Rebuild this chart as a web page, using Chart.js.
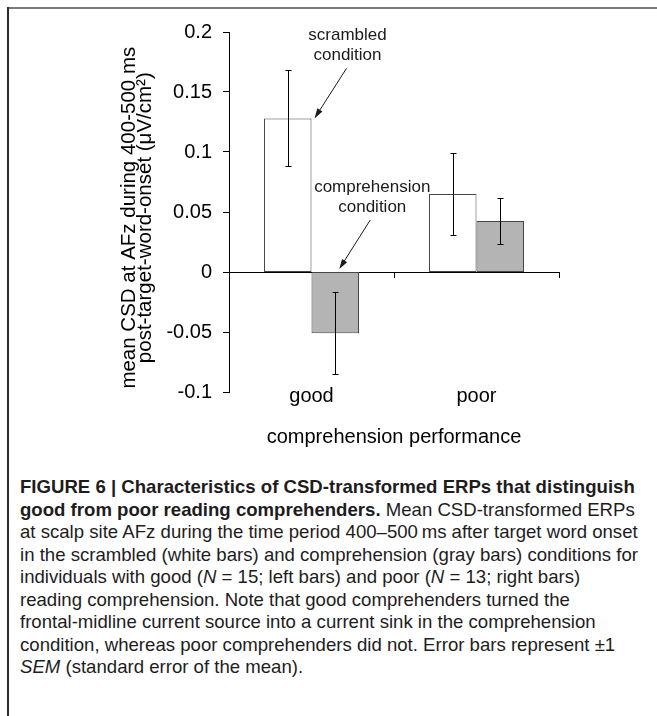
<!DOCTYPE html>
<html>
<head>
<meta charset="utf-8">
<script src="https://cdn.jsdelivr.net/npm/chart.js@4.4.1/dist/chart.umd.min.js"></script>
<style>
  html, body { margin: 0; padding: 0; background: #fff; }
  #page { position: relative; width: 657px; height: 716px; overflow: hidden; }
  #chartBox { position: absolute; left: 0; top: 0; width: 657px; height: 460px; }
  .frameTop { position: absolute; left: 8px; top: 7px; width: 649px; height: 2px; background: #7a7a7a; }
  .frameLeft { position: absolute; left: 7px; top: 7px; width: 2px; height: 709px; background: #2b2b2b; }
  #caption {
    position: absolute; left: 20px; top: 476px;
    font-family: 'Liberation Sans', Arial, sans-serif;
    font-size: 18.6px; line-height: 22.5px; color: #1e1c1d; white-space: nowrap;
  }
</style>
</head>
<body>
<div id="page">
  <div id="chartBox"><canvas id="csdChart"></canvas></div>
  <div class="frameTop"></div>
  <div class="frameLeft"></div>
  <div id="caption"><b>FIGURE 6 | Characteristics of CSD-transformed ERPs that distinguish<br>good from poor reading comprehenders.</b> Mean CSD-transformed ERPs<br>at scalp site AFz during the time period 400–500&thinsp;ms after target word onset<br>in the scrambled (white bars) and comprehension (gray bars) conditions for<br>individuals with good (<i>N</i> = 15; left bars) and poor (<i>N</i> = 13; right bars)<br>reading comprehension. Note that good comprehenders turned the<br>frontal-midline current source into a current sink in the comprehension<br>condition, whereas poor comprehenders did not. Error bars represent ±1<br><i>SEM</i> (standard error of the mean).</div>
</div>
<script>
// reading comprehension groups
const groups = ['good', 'poor'];

// mean CSD (µV/cm²) and SEM
const scrambled = [0.128, 0.065];
const scrambledSem = [0.040, 0.034];
const comprehension = [-0.051, 0.0425];
const comprehensionSem = [0.034, 0.0195];

const yTicks = ['-0.1', '-0.05', '0', '0.05', '0.1', '0.15', '0.2'];

Chart.defaults.font.family = "'Liberation Sans', Arial, sans-serif";
Chart.defaults.color = '#000';

// vertical error bars with small caps
const errorBars = {
  id: 'errorBars',
  afterDatasetsDraw(chart) {
    const ctx = chart.ctx;
    const y = chart.scales.y;
    ctx.save();
    ctx.strokeStyle = '#000';
    ctx.lineWidth = 1;
    chart.data.datasets.forEach((ds, i) => {
      chart.getDatasetMeta(i).data.forEach((bar, j) => {
        const v = ds.data[j], e = ds.sem[j];
        const x = Math.round(bar.x) + 0.5;
        const top = Math.round(y.getPixelForValue(v + e)) + 0.5;
        const bot = Math.round(y.getPixelForValue(v - e)) + 0.5;
        ctx.beginPath();
        ctx.moveTo(x, top); ctx.lineTo(x, bot);
        ctx.moveTo(x - 3, top); ctx.lineTo(x + 3, top);
        ctx.moveTo(x - 3, bot); ctx.lineTo(x + 3, bot);
        ctx.stroke();
      });
    });
    ctx.restore();
  }
};

function arrow(ctx, x1, y1, x2, y2) {
  const a = Math.atan2(y2 - y1, x2 - x1);
  const c = Math.cos(a), s = Math.sin(a);
  ctx.beginPath();
  ctx.moveTo(x1, y1);
  ctx.lineTo(x2 - 6 * c, y2 - 6 * s);
  ctx.stroke();
  ctx.beginPath();
  ctx.moveTo(x2, y2);
  ctx.lineTo(x2 - 10 * c + 3 * s, y2 - 10 * s - 3 * c);
  ctx.lineTo(x2 - 10 * c - 3 * s, y2 - 10 * s + 3 * c);
  ctx.closePath();
  ctx.fill();
}

// the two labelled arrows
const callouts = {
  id: 'callouts',
  afterDraw(chart) {
    const ctx = chart.ctx;
    const white = chart.getDatasetMeta(0).data[0];
    const gray = chart.getDatasetMeta(1).data[0];
    const y0 = chart.scales.y.getPixelForValue(0);
    const wRight = white.x + white.width / 2;
    ctx.save();
    ctx.font = "17px 'Liberation Sans', Arial, sans-serif";
    ctx.fillStyle = '#1a1a1a';
    ctx.strokeStyle = '#1a1a1a';
    ctx.lineWidth = 1;
    ctx.textAlign = 'center';
    ctx.fillText('scrambled', wRight + 36, white.y - 78);
    ctx.fillText('condition', wRight + 36, white.y - 58);
    arrow(ctx, wRight + 35, white.y - 50, wRight + 3, white.y);
    ctx.fillText('comprehension', gray.x + 37, y0 - 80);
    ctx.fillText('condition', gray.x + 37, y0 - 60);
    arrow(ctx, gray.x + 35, y0 - 52, gray.x + 4, y0 - 3);
    ctx.restore();
  }
};

new Chart(document.getElementById('csdChart'), {
  type: 'bar',
  data: {
    labels: groups,
    datasets: [{
      label: 'scrambled',
      data: scrambled,
      sem: scrambledSem,
      backgroundColor: '#ffffff',
      borderColor: '#454545',
      borderWidth: 1,
      borderSkipped: false,
      xAxisID: 'x'
    }, {
      label: 'comprehension',
      data: comprehension,
      sem: comprehensionSem,
      backgroundColor: '#b4b4b4',
      borderColor: '#454545',
      borderWidth: 1,
      borderSkipped: false,
      xAxisID: 'x'
    }]
  },
  options: {
    responsive: true,
    maintainAspectRatio: false,
    animation: false,
    categoryPercentage: 0.576,
    barPercentage: 1,
    layout: { padding: { left: 100, right: 98, top: 32, bottom: 0 } },
    plugins: {
      legend: { display: false },
      tooltip: { enabled: false }
    },
    scales: {
      // bottom axis only carries the title
      x: {
        position: 'bottom',
        grid: { display: false, drawTicks: false },
        border: { display: false },
        ticks: { display: false },
        title: {
          display: true,
          text: 'comprehension performance',
          font: { size: 20 },
          padding: { top: 0, bottom: 11 }
        },
        afterFit(s) { s.height = 68; }
      },
      // zero line with tick marks between groups
      xZero: {
        type: 'category',
        position: { y: 0 },
        offset: true,
        grid: { offset: true, drawOnChartArea: false, drawTicks: true, tickLength: 5, color: '#000' },
        border: { display: true, color: '#000', width: 1 },
        ticks: { display: false }
      },
      // group names under the plot
      xNames: {
        type: 'category',
        position: { y: -0.1 },
        offset: true,
        grid: { display: false, drawTicks: false },
        border: { display: false },
        ticks: { font: { size: 20 }, padding: -8, maxRotation: 0 }
      },
      y: {
        min: -0.1,
        max: 0.2,
        ticks: {
          stepSize: 0.05,
          font: { size: 20 },
          padding: 11,
          callback: (v, i) => yTicks[i]
        },
        grid: { drawOnChartArea: false, tickLength: 6, color: '#000' },
        border: { color: '#000', width: 1 },
        title: {
          display: true,
          text: ['mean CSD at AFz during 400-500 ms\u00a0\u00a0', 'post-target-word-onset (\u03bcV/cm\u00b2)\u00a0\u00a0'],
          font: { size: 20.5, lineHeight: '16px' },
          padding: { top: 21, bottom: 0 }
        },
        afterFit(s) { s.width = 129; }
      }
    }
  },
  plugins: [errorBars, callouts]
});
</script>
</body>
</html>
